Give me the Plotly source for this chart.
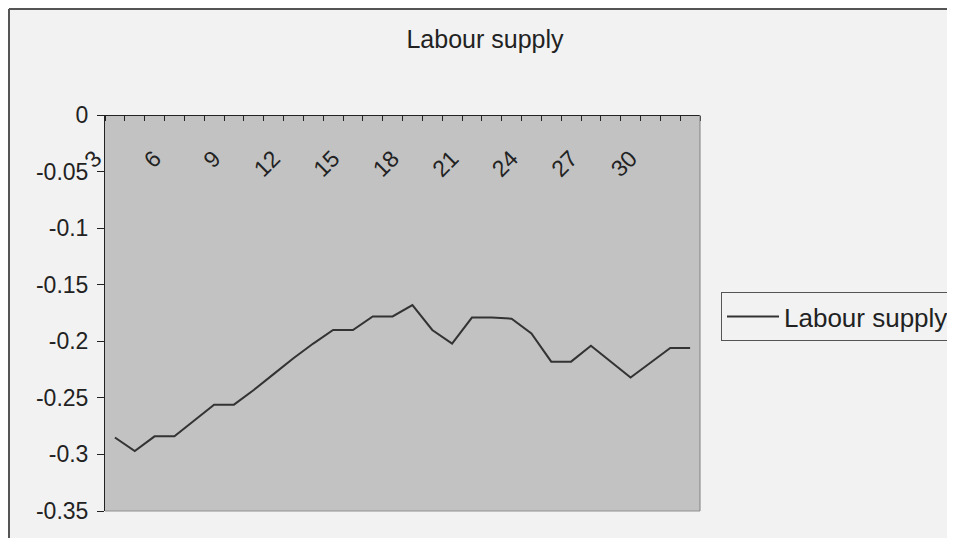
import plotly.graph_objects as go

periods = list(range(3, 33))
labour_supply = [-0.285, -0.297, -0.284, -0.284, -0.270, -0.256, -0.256, -0.243,
                 -0.229, -0.215, -0.202, -0.190, -0.190, -0.178, -0.178, -0.168,
                 -0.190, -0.202, -0.179, -0.179, -0.180, -0.193, -0.218, -0.218,
                 -0.204, -0.218, -0.232, -0.219, -0.206, -0.206]
x_tick_vals = [3, 6, 9, 12, 15, 18, 21, 24, 27, 30]
y_tick_vals = [0, -0.05, -0.1, -0.15, -0.2, -0.25, -0.3, -0.35]
y_tick_text = ["0", "-0.05", "-0.1", "-0.15", "-0.2", "-0.25", "-0.3", "-0.35"]

# the page body adds an 8px offset, so figure coords = screen coords - 8
OFF = 8
W, H = 955 - OFF, 546 - 2 * OFF
L, R, T, B = 105 - OFF, 700 - OFF, 115 - OFF, 511 - OFF

def px_x(p):  # screen px -> paper
    return (p - OFF - L) / (R - L)

def px_y(p):
    return (B - (p - OFF)) / (B - T)

FONT = "Liberation Sans, Arial, sans-serif"
TXT = "#222222"

fig = go.Figure()
fig.add_trace(go.Scatter(
    x=periods, y=labour_supply, mode="lines", name="Labour supply",
    line=dict(color="#333333", width=2),
))

boundaries = [p - 0.5 for p in periods] + [periods[-1] + 0.5]

fig.update_layout(
    width=W, height=H,
    margin=dict(l=L, r=W - R, t=T, b=H - B, autoexpand=False),
    paper_bgcolor="#f2f2f2",
    plot_bgcolor="#c2c2c2",
    font=dict(family=FONT, size=23, color=TXT),
    showlegend=True,
    title=dict(text="Labour supply", x=(485 - OFF) / W, xref="container", xanchor="center",
               y=1 - (39 - OFF) / H, yref="container", yanchor="middle",
               font=dict(family=FONT, size=25, color=TXT)),
    legend=dict(x=px_x(721), y=px_y(292), xanchor="left", yanchor="top",
                bordercolor="#555555", borderwidth=1, bgcolor="rgba(0,0,0,0)",
                itemwidth=52,
                font=dict(family=FONT, size=26, color=TXT)),
    xaxis=dict(
        range=[2.5, 32.5], anchor="free", position=1, side="bottom",
        showgrid=False, zeroline=False, showline=True, linecolor="#222222", linewidth=1,
        tickmode="array", tickvals=x_tick_vals, ticks="", tickangle=-45,
        ticklabelstandoff=20, ticklabelshift=-20,
        tickfont=dict(family=FONT, size=23, color=TXT),
        minor=dict(tickmode="array", tickvals=boundaries, ticks="outside",
                   ticklen=5, tickcolor="#222222", showgrid=False),
    ),
    yaxis=dict(
        range=[-0.35, 0], showgrid=False, zeroline=False, showline=True,
        linecolor="#222222", linewidth=1,
        tickmode="array", tickvals=y_tick_vals, ticktext=y_tick_text,
        ticks="outside", ticklen=7, tickcolor="#222222", ticklabelstandoff=4,
        tickfont=dict(family=FONT, size=23, color=TXT),
    ),
)

# plot-area border (right and bottom) and outer chart border
fig.add_shape(type="line", xref="paper", yref="paper", x0=1, x1=1, y0=0, y1=1,
              line=dict(color="#808080", width=1), layer="above")
fig.add_shape(type="line", xref="paper", yref="paper", x0=0, x1=1, y0=0, y1=0,
              line=dict(color="#909090", width=1), layer="above")
fig.add_shape(type="line", xref="paper", yref="paper", x0=px_x(9), x1=px_x(9),
              y0=px_y(9), y1=px_y(560), line=dict(color="#555555", width=2))
fig.add_shape(type="line", xref="paper", yref="paper", x0=px_x(9), x1=px_x(970),
              y0=px_y(9), y1=px_y(9), line=dict(color="#555555", width=2))

fig.write_html("out.html")
